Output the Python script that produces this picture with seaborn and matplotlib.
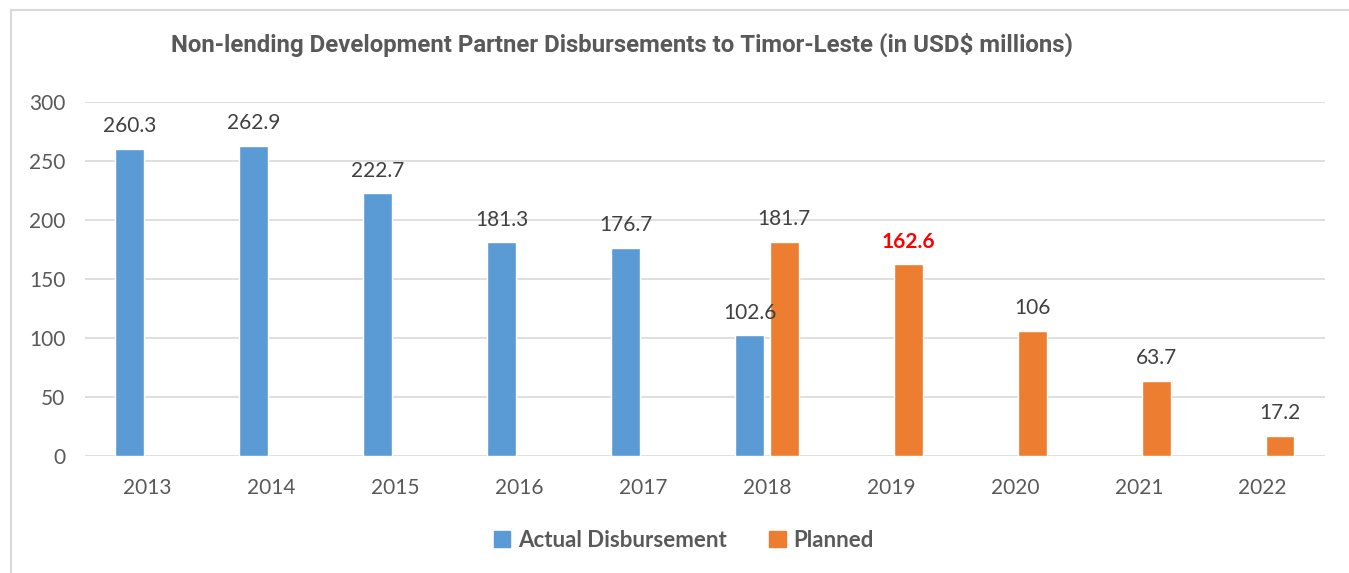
import matplotlib.pyplot as plt
import matplotlib.patches as mpatches
import seaborn as sns
import pandas as pd
import numpy as np

years = ['2013', '2014', '2015', '2016', '2017', '2018', '2019', '2020', '2021', '2022']
actual = [260.3, 262.9, 222.7, 181.3, 176.7, 102.6, np.nan, np.nan, np.nan, np.nan]
planned = [np.nan, np.nan, np.nan, np.nan, np.nan, 181.7, 162.6, 106, 63.7, 17.2]
series_names = ['Actual Disbursement', 'Planned']
colors = ['#5B9BD5', '#ED7D31']
grey = '#595959'

df = pd.DataFrame({
    'year': years * 2,
    'value': actual + planned,
    'series': [series_names[0]] * len(years) + [series_names[1]] * len(years),
})

sns.set_theme(style='white')
plt.rcParams['font.family'] = ['Lato', 'DejaVu Sans']

fig = plt.figure(figsize=(13.49, 5.73), dpi=100)
ax = fig.add_axes([0.063, 0.204, 0.919, 0.618])

sns.barplot(data=df, x='year', y='value', hue='series', order=years,
            hue_order=series_names, palette=colors, width=0.56, gap=0.17,
            saturation=1, ax=ax, legend=False)

ax.set_ylim(0, 300)
ax.set_yticks(range(0, 301, 50))
ax.yaxis.grid(True, color='#D9D9D9', linewidth=1.2)
ax.set_axisbelow(True)
for s in ax.spines.values():
    s.set_visible(False)
ax.set_xlabel('')
ax.set_ylabel('')
ax.tick_params(axis='both', length=0, labelsize=15, labelcolor=grey)
ax.tick_params(axis='x', pad=16)
ax.tick_params(axis='y', pad=14)

# data labels
for bar in ax.patches:
    h = bar.get_height()
    if h is None or np.isnan(h) or h == 0:
        continue
    txt = str(int(h)) if h == int(h) else f'{h:.1f}'
    hot = txt == '162.6'
    ax.annotate(txt, (bar.get_x() + bar.get_width() / 2, h), xytext=(0, 9),
                textcoords='offset points', ha='center', va='bottom', fontsize=15,
                color='#FF0000' if hot else '#404040',
                fontweight='bold' if hot else 'normal')

fig.text(0.461, 0.921, 'Non-lending Development Partner Disbursements to Timor-Leste (in USD$ millions)',
         ha='center', va='center', fontsize=17.3, fontweight='bold', color=grey,
         family=['Roboto', 'DejaVu Sans'])

handles = [mpatches.Patch(color=c, label=n) for c, n in zip(colors, series_names)]
leg = fig.legend(handles=handles, loc='center', bbox_to_anchor=(0.507, 0.057), ncol=2,
                 frameon=False, handlelength=0.75, handleheight=0.75, handletextpad=0.35,
                 columnspacing=1.9, prop={'size': 16, 'weight': 'bold'})
for t in leg.get_texts():
    t.set_color(grey)

# chart frame
fig.add_artist(mpatches.Rectangle((0.008, -0.05), 1.1, 1.032, transform=fig.transFigure,
                                  fill=False, edgecolor='#D9D9D9', linewidth=1.5))

fig.savefig('out.png', dpi=100)
